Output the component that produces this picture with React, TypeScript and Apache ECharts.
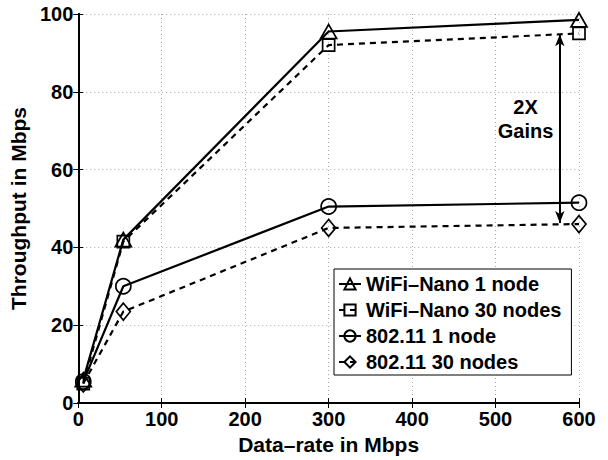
import React, { useEffect, useRef } from "react";
import * as echarts from "echarts";

const dataRates = [6, 54, 300, 600];
const seriesNames = ["WiFi–Nano 1 node", "WiFi–Nano 30 nodes", "802.11 1 node", "802.11 30 nodes"];
const wifiNano1 = [6, 42, 95.5, 98.5];
const wifiNano30 = [5, 41.5, 92, 95];
const dot11One = [5.5, 30, 50.5, 51.5];
const dot11Thirty = [5, 23.5, 45, 46];
const gainArrow = [
  [577, 94.8],
  [577, 46.3],
];
const gainLabelPos = [536, 73];
const gainLabelText = "2X\nGains";
const xTitle = "Data–rate in Mbps";
const yTitle = "Throughput in Mbps";

const FONT = "'Liberation Sans', Arial, Helvetica, sans-serif";

function makeSeries(name: string, values: number[], symbol: string, symbolSize: number[], dashed: boolean, extra: any = {}) {
  return {
    name,
    type: "line",
    data: dataRates.map((x, i) => [x, values[i]]),
    symbol,
    symbolSize,
    showSymbol: true,
    lineStyle: { color: "#000", width: 2.2, type: dashed ? [6, 5] : "solid" },
    itemStyle: { color: "rgba(0,0,0,0)", borderColor: "#000", borderWidth: 1.7 },
    emphasis: { disabled: true },
    ...extra,
  };
}

export default function App() {
  const ref = useRef<HTMLDivElement>(null);
  useEffect(() => {
    if (!ref.current) return;
    const chart = echarts.init(ref.current, undefined, { renderer: "svg" });
    const axisText = { fontFamily: FONT, fontWeight: "bold", fontSize: 20, color: "#000" };
    const option: any = {
      animation: false,
      backgroundColor: "#fff",
      grid: { left: 77, right: 29, top: 14, bottom: 56 },
      xAxis: [
        {
          type: "value",
          min: 0,
          max: 600,
          interval: 100,
          position: "bottom",
          name: xTitle,
          nameLocation: "middle",
          nameGap: 31,
          nameTextStyle: { fontFamily: FONT, fontWeight: "bold", fontSize: 21, color: "#000" },
          axisLine: { show: true, lineStyle: { color: "#000", width: 2 } },
          axisTick: { show: true, inside: true, length: 5, lineStyle: { color: "#000", width: 1 } },
          axisLabel: { ...axisText, margin: 6 },
          splitLine: { show: true, lineStyle: { color: "#aaa", type: [1, 3], width: 1 } },
        },
        {
          type: "value",
          min: 0,
          max: 600,
          interval: 100,
          position: "top",
          axisLine: { show: true, lineStyle: { color: "#000", width: 2 } },
          axisTick: { show: true, inside: true, length: 5, lineStyle: { color: "#000", width: 1 } },
          axisLabel: { show: false },
          splitLine: { show: false },
        },
      ],
      yAxis: [
        {
          type: "value",
          min: 0,
          max: 100,
          interval: 20,
          position: "left",
          name: yTitle,
          nameLocation: "middle",
          nameGap: 44,
          nameTextStyle: { fontFamily: FONT, fontWeight: "bold", fontSize: 21, color: "#000" },
          axisLine: { show: true, lineStyle: { color: "#000", width: 2 } },
          axisTick: { show: true, inside: true, length: 5, lineStyle: { color: "#000", width: 1 } },
          axisLabel: { ...axisText, margin: 5 },
          splitLine: { show: true, lineStyle: { color: "#aaa", type: [1, 3], width: 1 } },
        },
        {
          type: "value",
          min: 0,
          max: 100,
          interval: 20,
          position: "right",
          axisLine: { show: true, lineStyle: { color: "#000", width: 2 } },
          axisTick: { show: true, inside: true, length: 5, lineStyle: { color: "#000", width: 1 } },
          axisLabel: { show: false },
          splitLine: { show: false },
        },
      ],
      legend: {
        orient: "vertical",
        left: 334,
        top: 269,
        padding: [5, 10, 3, 4],
        itemWidth: 22,
        itemHeight: 14,
        itemGap: 6,
        backgroundColor: "#fff",
        borderColor: "#000",
        borderWidth: 1,
        borderRadius: 0,
        textStyle: { fontFamily: FONT, fontWeight: "bold", fontSize: 20, color: "#000", lineHeight: 20 },
        data: seriesNames,
        selectedMode: false,
      },
      series: [
        makeSeries(seriesNames[0], wifiNano1, "triangle", [16, 14], false),
        makeSeries(seriesNames[1], wifiNano30, "rect", [12, 12], true),
        makeSeries(seriesNames[2], dot11One, "circle", [15, 15], false),
        makeSeries(seriesNames[3], dot11Thirty, "diamond", [14, 17], true, {
          markLine: {
            silent: true,
            symbol: ["arrow", "arrow"],
            symbolSize: [7, 12],
            lineStyle: { color: "#000", width: 2, type: "solid" },
            label: { show: false },
            data: [[{ coord: gainArrow[0] }, { coord: gainArrow[1] }]],
          },
          markPoint: {
            silent: true,
            symbol: "circle",
            symbolSize: 1,
            itemStyle: { color: "rgba(0,0,0,0)", borderWidth: 0 },
            label: {
              show: true,
              position: "inside",
              formatter: gainLabelText,
              fontFamily: FONT,
              fontWeight: "bold",
              fontSize: 20,
              lineHeight: 24,
              color: "#000",
            },
            data: [{ coord: gainLabelPos }],
          },
        }),
      ],
    };
    chart.setOption(option);
    return () => chart.dispose();
  }, []);
  return <div ref={ref} style={{ position: "absolute", left: 0, top: 0, width: 608, height: 460 }} />;
}
